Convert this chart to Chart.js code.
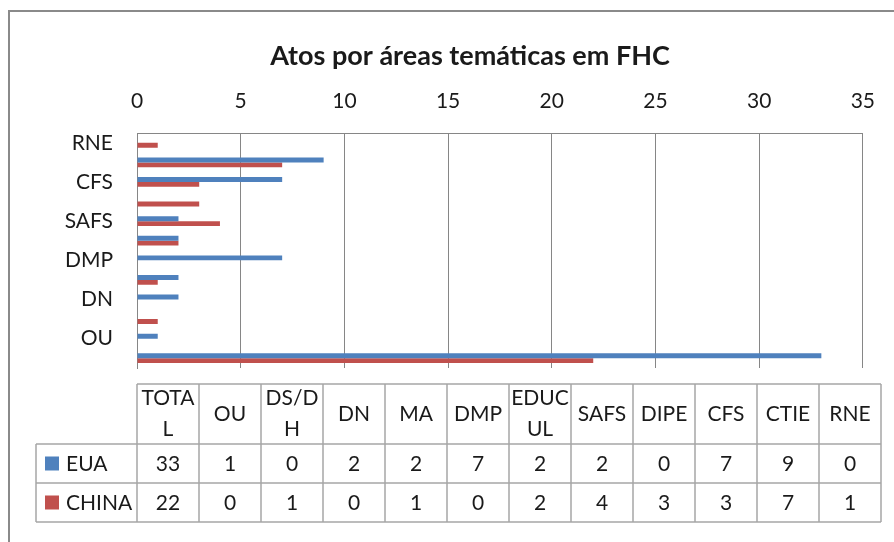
<!DOCTYPE html>
<html>
<head>
<meta charset="utf-8">
<script src="https://cdn.jsdelivr.net/npm/chart.js@4"></script>
<style>
  html, body { margin: 0; padding: 0; background: #fff; }
  #wrap { width: 894px; height: 542px; }
</style>
</head>
<body>
<div id="wrap"><canvas id="atosChart"></canvas></div>
<script>
// categories in the order of the data table (TOTAL first, drawn at the bottom)
const categories = ['TOTAL', 'OU', 'DS/DH', 'DN', 'MA', 'DMP', 'EDUCUL', 'SAFS', 'DIPE', 'CFS', 'CTIE', 'RNE'];
const euaValues = [33, 1, 0, 2, 2, 7, 2, 2, 0, 7, 9, 0];
const chinaValues = [22, 0, 1, 0, 1, 0, 2, 4, 3, 3, 7, 1];
const xTicks = [0, 5, 10, 15, 20, 25, 30, 35];
const chartTitle = 'Atos por áreas temáticas em FHC';

const FONT = 'Lato, "Open Sans", sans-serif';
const GRID = '#868686';
const TEXT = '#1a1a1a';

// white page, grey frame of the Excel chart box and the title
// (the title sits centred on the frame, not on the plot, so it is drawn here)
const framePlugin = {
    id: 'frame',
    beforeDraw(chart) {
        const c = chart.ctx;
        c.save();
        c.fillStyle = '#fff';
        c.fillRect(0, 0, chart.width, chart.height);
        c.strokeStyle = '#8a8a8a';
        c.lineWidth = 2;
        c.beginPath();
        c.moveTo(9, chart.height);
        c.lineTo(9, 11);
        c.lineTo(chart.width, 11);
        c.stroke();

        c.fillStyle = TEXT;
        c.font = 'bold 27px ' + FONT;
        c.textAlign = 'center';
        c.textBaseline = 'middle';
        c.fillText(chartTitle, 470, 56);
        c.restore();
    }
};

// Excel style data table under the plot
const dataTablePlugin = {
    id: 'dataTable',
    afterDraw(chart) {
        const c = chart.ctx;
        const left = chart.chartArea.left;
        const colW = 62;
        const legendLeft = 36;
        const top = 384, headH = 60, rowH = 39;
        const labels = chart.data.labels;
        const n = labels.length;
        const right = left + colW * n;
        const bottom = top + headH + rowH * chart.data.datasets.length;

        c.save();
        c.strokeStyle = '#a6a6a6';
        c.lineWidth = 1.5;
        c.beginPath();
        c.moveTo(left, top); c.lineTo(right, top);
        for (let i = 0; i <= n; i++) {
            c.moveTo(left + i * colW, top);
            c.lineTo(left + i * colW, bottom);
        }
        c.moveTo(legendLeft, top + headH); c.lineTo(legendLeft, bottom);
        for (let r = 0; r <= chart.data.datasets.length; r++) {
            const y = top + headH + r * rowH;
            c.moveTo(legendLeft, y); c.lineTo(right, y);
        }
        c.stroke();

        c.fillStyle = TEXT;
        c.font = '21px ' + FONT;
        c.textAlign = 'center';
        c.textBaseline = 'middle';
        labels.forEach((lab, i) => {
            const cx = left + i * colW + colW / 2;
            // long labels wrap after 4 characters, as in the original
            const lines = [];
            for (let k = 0; k < lab.length; k += 4) lines.push(lab.slice(k, k + 4));
            const lh = 31;
            const y0 = top + headH / 2 - (lines.length - 1) * lh / 2;
            lines.forEach((ln, j) => c.fillText(ln, cx, y0 + j * lh));
        });

        chart.data.datasets.forEach((ds, r) => {
            const cy = top + headH + r * rowH + rowH / 2;
            c.fillStyle = ds.backgroundColor;
            c.fillRect(45, cy - 7, 14, 14);
            c.fillStyle = TEXT;
            c.textAlign = 'left';
            c.fillText(ds.label, 66, cy + 1);
            c.textAlign = 'center';
            ds.data.forEach((v, i) => {
                c.fillText(String(v), left + i * colW + colW / 2, cy + 1);
            });
        });
        c.restore();
    }
};

const ctx = document.getElementById('atosChart').getContext('2d');
const atosChart = new Chart(ctx, {
    type: 'bar',
    data: {
        labels: categories,
        datasets: [
            {
                label: 'EUA',
                data: euaValues,
                backgroundColor: '#4F81BD',
                borderWidth: 0
            },
            {
                label: 'CHINA',
                data: chinaValues,
                backgroundColor: '#C0504D',
                borderWidth: 0
            }
        ]
    },
    options: {
        indexAxis: 'y',
        responsive: true,
        maintainAspectRatio: false,
        animation: false,
        datasets: {
            bar: { categoryPercentage: 0.5, barPercentage: 1 }
        },
        layout: {
            padding: { top: 0, left: 0, right: 27, bottom: 174 }
        },
        scales: {
            x: {
                position: 'top',
                min: 0,
                max: 35,
                afterBuildTicks(scale) {
                    scale.ticks = xTicks.map(v => ({ value: v }));
                },
                afterFit(scale) { scale.height = 133; },
                grid: { color: GRID, lineWidth: 1, drawTicks: false },
                border: { display: true, color: GRID, width: 1 },
                ticks: {
                    padding: 19,
                    color: TEXT,
                    font: { family: FONT, size: 21 }
                }
            },
            y: {
                reverse: true,
                afterFit(scale) { scale.width = 137; },
                grid: { display: false, drawTicks: false },
                border: { display: true, color: GRID, width: 1 },
                ticks: {
                    autoSkip: false,
                    padding: 24,
                    color: TEXT,
                    font: { family: FONT, size: 21 },
                    callback: function (value, index) {
                        return index % 2 === 1 ? this.getLabelForValue(value) : '';
                    }
                }
            }
        },
        plugins: {
            legend: { display: false },
            tooltip: { enabled: false },
            title: { display: false }
        }
    },
    plugins: [framePlugin, dataTablePlugin]
});
</script>
</body>
</html>
